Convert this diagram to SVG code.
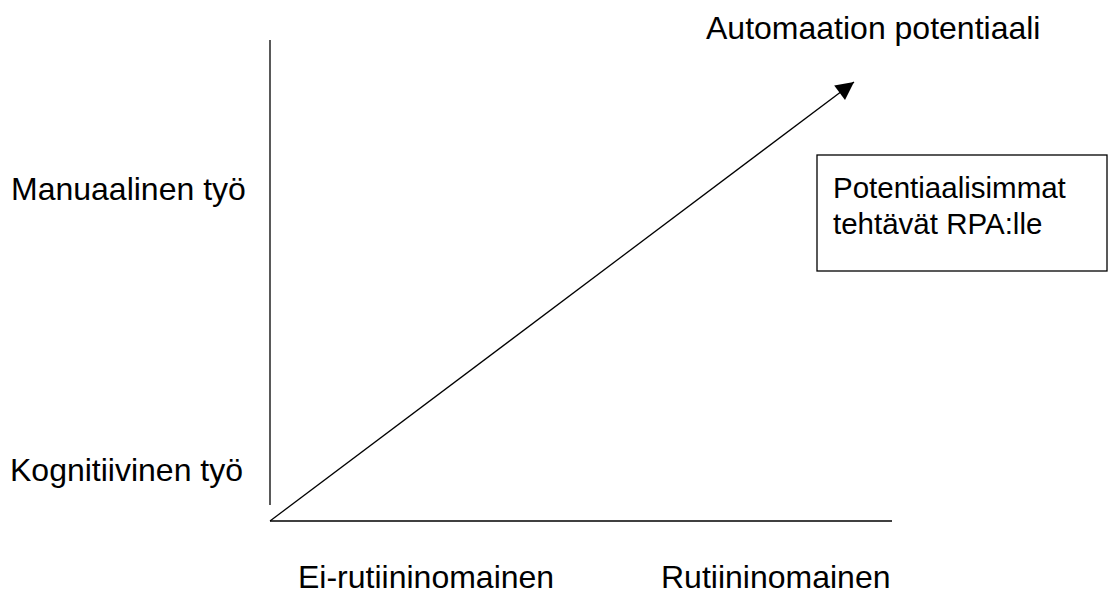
<svg xmlns="http://www.w3.org/2000/svg" width="1109" height="594" viewBox="0 0 1109 594">
<style>
text{font-family:"Liberation Sans",Arial,sans-serif;font-size:32px;fill:#000}
.bx{font-size:29.5px}
.ln{stroke:#000;stroke-width:1.3;fill:none}
</style>
<defs>
<marker id="ah" viewBox="0 0 10 10" refX="10" refY="5" markerWidth="20" markerHeight="18" markerUnits="userSpaceOnUse" orient="auto">
<path d="M0,0 L10,5 L0,10 z" fill="#000"/>
</marker>
</defs>
<rect width="1109" height="594" fill="#fff"/>
<g id="connectors">
<line class="ln" x1="270" y1="40" x2="270" y2="505"/>
<line class="ln" x1="270" y1="521" x2="892" y2="521"/>
<line class="ln" x1="270" y1="521" x2="854" y2="82" marker-end="url(#ah)"/>
</g>
<g id="title"><text x="706" y="39">Automaation potentiaali</text></g>
<g id="manual"><text x="11" y="200">Manuaalinen työ</text></g>
<g id="cognitive"><text x="10" y="481">Kognitiivinen työ</text></g>
<g id="nonroutine"><text x="298" y="588">Ei-rutiininomainen</text></g>
<g id="routine"><text x="661" y="588">Rutiininomainen</text></g>
<g id="box">
<rect class="ln" x="817" y="155" width="290" height="116"/>
<text class="bx" x="833" y="198">Potentiaalisimmat</text>
<text class="bx" x="833" y="234">tehtävät RPA:lle</text>
</g>
</svg>
